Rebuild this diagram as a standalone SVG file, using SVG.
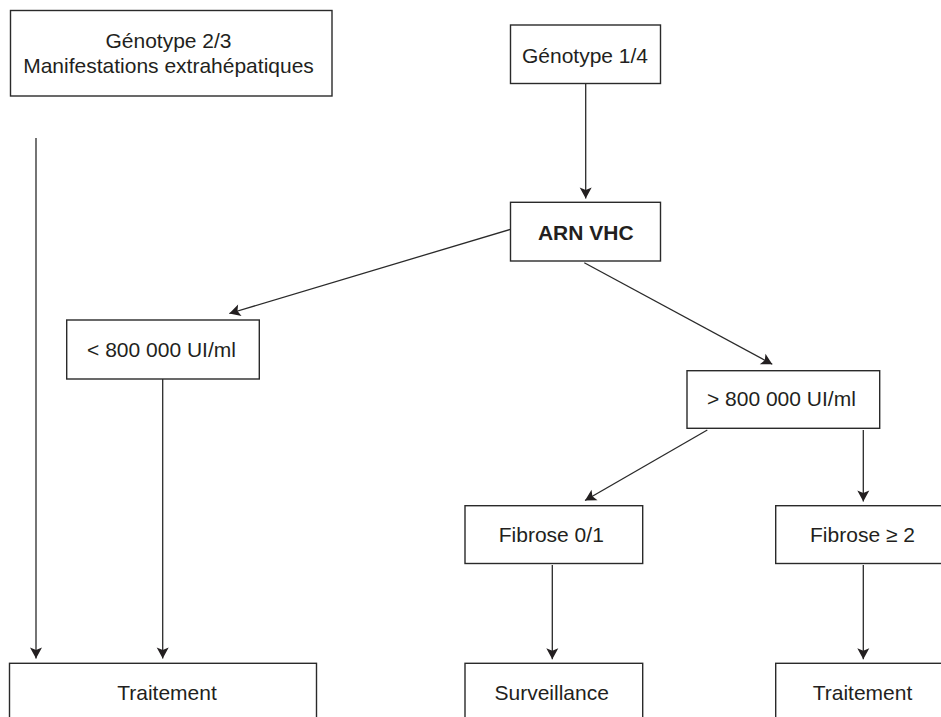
<svg xmlns="http://www.w3.org/2000/svg" width="941" height="717" viewBox="0 0 941 717">
<style>
.box{fill:#fff;stroke:#2a2a2a;stroke-width:1.4}
.t{font-family:"Liberation Sans",Arial,sans-serif;font-size:21px;fill:#231f20;text-anchor:middle}
.b{font-weight:bold}
.c{stroke:#2a2a2a;stroke-width:1.3;fill:none;marker-end:url(#ah)}
</style>
<defs>
<marker id="ah" markerUnits="userSpaceOnUse" markerWidth="14" markerHeight="14" viewBox="-12 -7 14 14" refX="0" refY="0" orient="auto">
<path d="M0,0 L-11,-6 L-8.5,0 L-11,6 Z" fill="#231f20"/>
</marker>
</defs>
<rect width="941" height="717" fill="#fff"/>
<g id="connectors">
<line class="c" x1="36" y1="138" x2="36" y2="658.5"/>
<line class="c" x1="162.7" y1="379" x2="162.7" y2="658.5"/>
<line class="c" x1="585.7" y1="83.5" x2="585.7" y2="198.5"/>
<line class="c" x1="510.5" y1="229.3" x2="229.3" y2="313.5"/>
<line class="c" x1="584.3" y1="262.7" x2="772.3" y2="364.3"/>
<line class="c" x1="707.3" y1="430" x2="585" y2="500.5"/>
<line class="c" x1="863.3" y1="430" x2="863.3" y2="501.5"/>
<line class="c" x1="552.3" y1="565" x2="552.3" y2="659.3"/>
<line class="c" x1="863.3" y1="565" x2="863.3" y2="659.3"/>
</g>
<g id="genotype23">
<rect class="box" x="10.5" y="10.5" width="321.5" height="85.5"/>
<text class="t" x="168.5" y="48">Génotype 2/3</text>
<text class="t" x="168.5" y="72.5">Manifestations extrahépatiques</text>
</g>
<g id="genotype14">
<rect class="box" x="510.5" y="25" width="150" height="58.5"/>
<text class="t" x="585" y="62.7">Génotype 1/4</text>
</g>
<g id="arnvhc">
<rect class="box" x="510.5" y="202.3" width="150" height="58.7"/>
<text class="t b" x="585.8" y="240">ARN VHC</text>
</g>
<g id="lt800">
<rect class="box" x="66.7" y="320" width="192.6" height="59"/>
<text class="t" x="161.5" y="357">&lt; 800 000 UI/ml</text>
</g>
<g id="gt800">
<rect class="box" x="687" y="370.7" width="192.7" height="57.6"/>
<text class="t" x="781.4" y="405.7">&gt; 800 000 UI/ml</text>
</g>
<g id="fibrose01">
<rect class="box" x="465" y="505.7" width="177.7" height="57.8"/>
<text class="t" x="551.3" y="542.2">Fibrose 0/1</text>
</g>
<g id="fibrose2">
<rect class="box" x="775.7" y="505.7" width="200" height="57.8"/>
<text class="t" x="862.5" y="542.2">Fibrose ≥ 2</text>
</g>
<g id="traitement1">
<rect class="box" x="9.5" y="663.3" width="307" height="80"/>
<text class="t" x="167" y="700">Traitement</text>
</g>
<g id="surveillance">
<rect class="box" x="465" y="663.3" width="177.7" height="80"/>
<text class="t" x="551.7" y="700">Surveillance</text>
</g>
<g id="traitement2">
<rect class="box" x="775.7" y="663.3" width="200" height="80"/>
<text class="t" x="862.5" y="700">Traitement</text>
</g>
</svg>
